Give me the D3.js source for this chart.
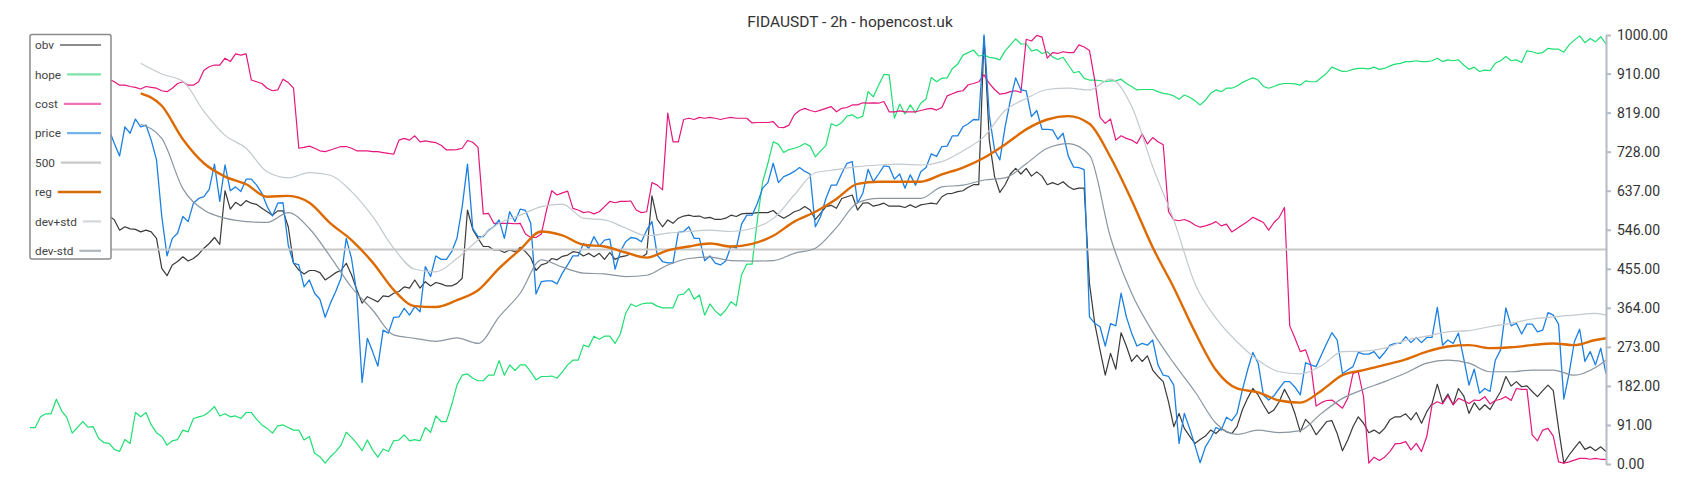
<!DOCTYPE html>
<html>
<head>
<meta charset="utf-8">
<script src="https://cdnjs.cloudflare.com/ajax/libs/d3/7.8.5/d3.min.js"></script>
<style>
body { margin: 0; background: #fff; }
svg { display: block; font-family: Roboto, "Noto Sans", sans-serif; }
</style>
</head>
<body>
<div id="chart"></div>
<script>

var title = "FIDAUSDT - 2h - hopencost.uk";

var seriesNames = ["obv", "hope", "cost", "price", "500", "reg", "dev+std", "dev-std"];

var yTicks = [0, 91, 182, 273, 364, 455, 546, 637, 728, 819, 910, 1000];

// one value per 2h candle, 300 candles
var price = [
	880,905,870,890,860,900,875,850,880,860,
	840,870,830,800,790,779,747,718,786,771,
	804,786,790,755,709,577,485,526,538,577,
	565,608,619,623,640,699,612,697,637,646,
	635,664,664,650,631,600,578,608,609,510,
	468,464,413,429,398,384,342,375,402,433,
	526,479,398,190,293,262,228,312,305,342,
	343,363,347,367,355,460,437,485,477,477,
	495,526,600,699,549,530,530,545,553,569,
	526,588,565,594,591,561,396,425,427,427,
	420,445,464,485,485,514,503,530,508,522,
	524,454,495,518,528,526,518,545,565,487,
	472,469,469,540,542,553,526,526,474,485,
	468,464,473,508,503,559,580,580,608,643,
	656,701,656,670,675,682,691,682,676,553,
	577,619,650,650,677,701,705,608,631,687,
	658,676,695,693,664,676,643,674,650,681,
	691,723,717,740,741,765,765,786,793,803,
	802,1000,812,732,709,786,848,900,872,870,
	810,824,780,780,779,757,771,717,692,691,
	686,343,328,320,275,327,322,398,343,305,
	275,281,277,289,231,207,204,184,48,118,
	83,44,3,40,60,85,79,109,101,118,
	172,219,260,235,161,149,159,176,192,192,
	179,161,236,231,227,254,281,306,289,211,
	219,227,260,256,256,262,246,260,277,281,
	281,297,283,295,283,295,295,365,277,289,
	281,305,246,184,221,165,176,169,242,266,
	364,322,328,303,326,326,308,312,353,347,
	326,151,211,285,314,239,262,231,270,211
];

var cost = [
	900,905,895,910,900,890,905,895,900,910,
	905,900,895,900,897,897,891,883,883,880,
	878,874,880,878,876,870,868,876,887,891,
	883,883,891,918,926,930,930,946,938,956,
	953,956,895,891,887,876,870,872,897,889,
	876,736,738,741,736,730,728,732,736,740,
	740,736,730,730,730,728,728,726,724,722,
	755,759,755,765,751,753,751,749,743,732,
	732,733,736,754,750,738,583,584,561,561,
	561,561,560,561,536,528,528,536,592,637,
	627,632,636,596,592,586,588,583,588,600,
	612,609,612,612,613,592,586,588,656,650,
	639,818,751,751,803,806,803,808,806,808,
	806,803,806,808,806,806,806,795,796,796,
	796,798,785,784,790,814,824,829,824,821,
	825,829,833,821,829,831,837,837,842,841,
	842,841,845,821,821,823,821,821,821,824,
	827,829,825,831,858,863,868,870,884,887,
	891,907,887,873,862,864,868,870,866,990,
	986,999,995,946,959,957,961,959,959,977,
	972,964,895,808,794,804,755,765,759,755,
	747,769,746,761,751,744,588,569,567,570,
	565,557,552,555,559,565,555,559,541,549,
	557,565,575,569,563,545,563,575,598,322,
	293,262,266,231,135,143,148,149,140,130,
	153,211,215,157,2,16,8,16,29,47,
	48,52,33,48,29,64,138,145,140,159,
	138,153,148,141,149,148,157,140,148,151,
	157,148,176,174,174,68,54,79,83,65,
	5,2,5,9,13,13,11,13,11,11
];

var obv = [
	600,590,605,595,585,600,590,580,595,585,
	590,585,580,575,582,579,569,545,553,548,
	547,541,545,541,526,456,439,464,472,483,
	473,479,489,503,514,528,512,637,594,610,
	602,614,608,605,596,588,580,590,590,553,
	468,452,443,451,451,446,429,437,446,451,
	468,441,406,375,390,384,378,392,390,398,
	402,413,410,429,410,425,415,423,420,415,
	415,421,433,592,547,526,507,507,499,499,
	493,499,495,505,495,481,451,464,468,479,
	476,484,487,495,493,485,491,483,491,477,
	493,477,483,485,490,485,482,490,625,570,
	553,569,561,573,578,580,577,578,573,575,
	570,570,573,580,577,583,584,584,586,586,
	586,591,580,573,580,588,592,600,592,570,
	584,600,603,596,619,623,627,592,608,609,
	601,604,608,601,601,601,598,604,598,604,
	606,608,606,623,630,631,635,637,645,651,
	651,996,755,670,633,651,676,689,676,689,
	671,681,671,651,656,651,658,647,640,643,
	643,421,328,266,207,258,221,306,275,239,
	254,239,252,219,204,192,145,87,118,83,
	65,48,57,65,79,71,83,75,71,87,
	126,153,176,161,138,118,126,145,174,151,
	117,75,104,91,68,83,99,101,71,31,
	56,87,110,95,73,79,71,83,103,110,
	110,117,103,120,95,122,141,186,143,163,
	138,176,159,118,143,126,138,127,148,169,
	204,182,192,180,182,169,157,171,184,171,
	83,2,21,37,52,34,40,31,40,29
];

var hope = [
	85,85,110,117,117,151,124,108,72,85,
	99,86,87,60,50,48,34,29,57,48,
	120,110,120,91,73,64,44,54,57,79,
	75,106,110,113,122,134,112,117,110,112,
	106,120,120,104,91,83,72,89,91,85,
	79,79,56,64,25,17,2,17,29,44,
	74,62,48,31,56,33,16,35,29,54,
	56,68,54,57,54,85,74,112,99,99,
	138,184,207,210,200,194,194,207,207,241,
	207,231,218,231,231,215,196,204,204,205,
	200,215,231,242,242,277,273,298,291,298,
	298,281,303,351,373,367,373,375,375,368,
	364,364,364,394,396,409,384,394,347,373,
	357,346,359,378,369,441,466,466,569,658,
	701,751,745,726,733,736,740,747,741,716,
	730,742,793,788,796,811,814,806,811,868,
	856,883,908,907,806,839,816,837,819,841,
	851,901,891,899,900,922,932,953,959,965,
	951,953,948,946,942,963,977,991,979,979,
	963,966,957,961,949,943,948,930,912,915,
	899,895,895,894,891,893,893,897,887,880,
	872,873,873,873,868,864,862,858,850,860,
	855,847,837,848,864,872,868,876,876,881,
	889,895,900,895,880,876,880,885,887,887,
	886,883,893,891,891,901,911,925,920,915,
	916,920,922,922,921,925,920,922,928,932,
	934,938,938,940,938,938,940,946,938,942,
	940,942,930,920,925,915,918,917,934,940,
	950,940,942,936,963,961,957,959,969,967,
	967,960,977,988,998,982,992,984,996,979
];

var level500 = 500;

// regression + bands are read every 4th candle, from candle 21 on
var bandIdx = [
	21,25,29,33,37,41,45,49,53,57,
	61,65,69,73,77,81,85,89,93,97,
	101,105,109,113,117,121,125,129,133,137,
	141,145,149,153,157,161,165,169,173,177,
	181,185,189,193,197,201,205,209,213,217,
	221,225,229,233,237,241,245,249,253,257,
	261,265,269,273,277,281,285,289,293,297,
	299
];

var reg = [
	864,835,757,701,670,652,623,625,609,561,
	522,470,406,368,366,382,405,456,500,542,
	533,511,507,493,481,498,507,514,507,513,
	532,565,588,618,653,658,658,658,675,691,
	714,745,780,803,811,793,715,615,505,411,
	308,219,176,167,148,143,171,207,219,231,
	244,262,274,277,270,272,277,281,277,289,
	293
];

var devPlus = [
	934,909,892,822,766,736,681,667,679,673,
	635,577,503,454,448,479,522,561,580,600,
	606,573,569,550,532,538,542,545,542,549,
	572,627,679,686,693,697,699,697,705,730,
	763,824,852,873,876,872,897,834,693,569,
	421,340,285,242,215,210,229,262,263,270,
	288,298,308,311,320,328,338,343,347,351,
	347
];

var devMinus = [
	792,759,642,592,573,565,563,586,549,483,
	412,359,301,293,286,294,281,343,398,476,
	459,445,443,437,440,464,479,482,474,473,
	474,491,503,551,609,619,619,619,646,650,
	662,667,700,736,747,720,528,398,308,235,
	169,95,69,79,73,78,118,153,174,192,
	212,235,242,235,215,215,219,219,207,225,
	242
];


var width = 1700,
    height = 500;

var lineColors = {
	"obv": "#3a3a3a",
	"hope": "#1fdf72",
	"cost": "#e5177f",
	"price": "#1c80e2",
	"500": "#c8c8c8",
	"reg": "#dd6a00",
	"dev+std": "#c3c9ce",
	"dev-std": "#8a96a1"
};
var legendColors = {
	"obv": "#8c8c8c",
	"hope": "#7de3a6",
	"cost": "#ef74b6",
	"price": "#74b3ec",
	"500": "#c8c8c8",
	"reg": "#d96a0a",
	"dev+std": "#d3d7db",
	"dev-std": "#aeb6bd"
};

var svg = d3.select("#chart").append("svg")
	.attr("width", width)
	.attr("height", height);

var x = d3.scaleLinear()
	.domain([0, price.length - 1])
	.range([30, 1606]);

var y = d3.scaleLinear()
	.domain([0, 1000])
	.range([464, 35]);

svg.append("text")
	.attr("x", width / 2)
	.attr("y", 27)
	.attr("text-anchor", "middle")
	.style("font-size", "15.5px")
	.style("fill", "#333")
	.text(title);

// candle series
var candleLine = d3.line()
	.x(function(d, i) { return x(i); })
	.y(function(d) { return y(d); });

// smooth series, drawn at their own candle positions
var bandLine = d3.line()
	.x(function(d, i) { return x(bandIdx[i]); })
	.y(function(d) { return y(d); })
	.curve(d3.curveMonotoneX);

var plot = svg.append("g");

function drawPath(data, gen, name, w) {
	plot.append("path")
		.datum(data)
		.attr("d", gen)
		.attr("fill", "none")
		.attr("stroke", lineColors[name])
		.attr("stroke-width", w)
		.attr("stroke-linejoin", "round");
}

drawPath(obv, candleLine, "obv", 1.2);
drawPath(hope, candleLine, "hope", 1.2);
drawPath(cost, candleLine, "cost", 1.2);
drawPath(price, candleLine, "price", 1.3);

plot.append("line")
	.attr("x1", x(0))
	.attr("x2", x(price.length - 1))
	.attr("y1", y(level500))
	.attr("y2", y(level500))
	.attr("stroke", lineColors["500"])
	.attr("stroke-width", 2);

drawPath(reg, bandLine, "reg", 2.4);
drawPath(devPlus, bandLine, "dev+std", 1.2);
drawPath(devMinus, bandLine, "dev-std", 1.2);

// right axis
var axis = svg.append("g")
	.attr("transform", "translate(1606,0)")
	.call(d3.axisRight(y)
		.tickValues(yTicks)
		.tickFormat(d3.format(".2f"))
		.tickSize(5)
		.tickSizeOuter(0)
		.tickPadding(6));

axis.select(".domain")
	.attr("stroke", "#b4bcc3")
	.attr("stroke-width", 2);
axis.selectAll(".tick line")
	.attr("stroke", "#b4bcc3")
	.attr("stroke-width", 2);
axis.selectAll(".tick text")
	.style("font-size", "14px")
	.style("font-family", "Roboto, sans-serif")
	.style("fill", "#333");

// legend box top left
var legend = svg.append("g");

legend.append("rect")
	.attr("x", 30)
	.attr("y", 34.5)
	.attr("width", 81)
	.attr("height", 224.5)
	.attr("rx", 2)
	.attr("fill", "#fff")
	.attr("stroke", "#8a8a8a")
	.attr("stroke-width", 1.5);

var item = legend.selectAll("g.item")
	.data(seriesNames)
	.enter().append("g")
	.attr("class", "item")
	.attr("transform", function(d, i) { return "translate(0," + (45 + i * 29.4) + ")"; });

item.append("text")
	.attr("x", 35)
	.attr("dy", "0.35em")
	.style("font-size", "11.8px")
	.style("fill", "#444")
	.text(function(d) { return d; });

item.each(function(d) {
	var g = d3.select(this);
	var tw = g.select("text").node().getComputedTextLength();
	g.append("line")
		.attr("x1", 35 + tw + 6)
		.attr("x2", 101)
		.attr("stroke", legendColors[d])
		.attr("stroke-width", d == "reg" ? 2.6 : 2.2);
});

</script>
</body>
</html>
